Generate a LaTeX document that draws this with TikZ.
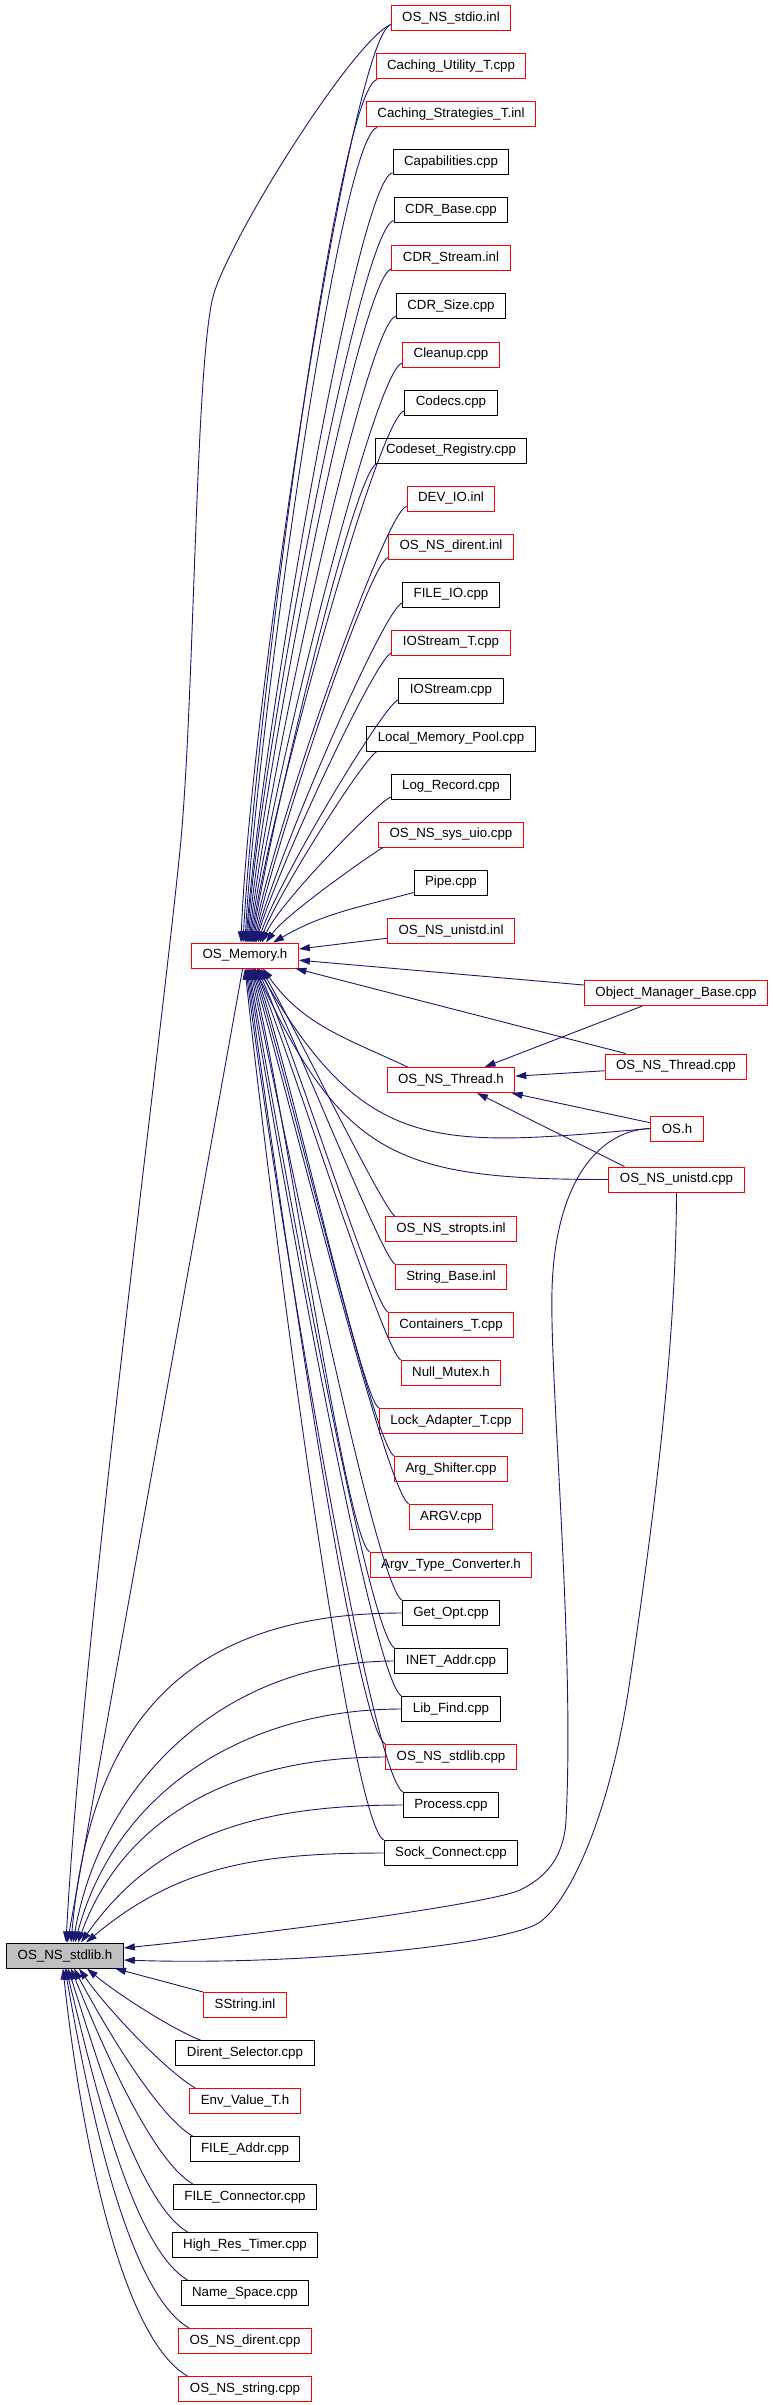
\documentclass[tikz,border=0pt]{standalone}
\usepackage{fontspec}
\setmainfont{Liberation Sans}
\usepackage{tikz}
\usetikzlibrary{arrows.meta}
\definecolor{edgeblue}{HTML}{191970}
\definecolor{rootgray}{HTML}{BFBFBF}
\tikzset{
  filenode/.style={rectangle,line width=1pt,minimum height=25pt,inner xsep=11pt,inner ysep=0pt,font=\fontsize{13.3}{15}\selectfont},
  blackbox/.style={filenode,draw=black},
  redbox/.style={filenode,draw=red},
  rootbox/.style={filenode,draw=black,fill=rootgray},
  dep/.style={draw=edgeblue,line width=.9pt,-{Triangle[length=11pt,width=7pt]}},
  tomem/.style={out looseness=.12,in looseness=.6},
  tolib/.style={out looseness=.5,in looseness=.8}
}
\begin{document}
\begin{tikzpicture}[x=1pt,y=1pt]
  \useasboundingbox (0,0) rectangle (773,-2405);

  \node[redbox] (stdioinl) at (451,-18.5) {OS\_NS\_stdio.inl};
  \node[redbox] (cachut) at (451,-66.5) {Caching\_Utility\_T.cpp};
  \node[redbox] (cachst) at (451,-114.5) {Caching\_Strategies\_T.inl};
  \node[blackbox] (capab) at (451,-162.5) {Capabilities.cpp};
  \node[blackbox] (cdrbase) at (451,-210.5) {CDR\_Base.cpp};
  \node[redbox] (cdrstream) at (451,-258.5) {CDR\_Stream.inl};
  \node[blackbox] (cdrsize) at (451,-306.5) {CDR\_Size.cpp};
  \node[redbox] (cleanup) at (451,-354.5) {Cleanup.cpp};
  \node[blackbox] (codecs) at (451,-402.5) {Codecs.cpp};
  \node[blackbox] (codeset) at (451,-450.5) {Codeset\_Registry.cpp};
  \node[redbox] (devio) at (451,-498.5) {DEV\_IO.inl};
  \node[redbox] (direntinl) at (451,-546.5) {OS\_NS\_dirent.inl};
  \node[blackbox] (fileio) at (451,-594.5) {FILE\_IO.cpp};
  \node[redbox] (iostreamt) at (451,-642.5) {IOStream\_T.cpp};
  \node[blackbox] (iostream) at (451,-690.5) {IOStream.cpp};
  \node[blackbox] (localmem) at (451,-738.5) {Local\_Memory\_Pool.cpp};
  \node[blackbox] (logrec) at (451,-786.5) {Log\_Record.cpp};
  \node[redbox] (sysuio) at (451,-834.5) {OS\_NS\_sys\_uio.cpp};
  \node[blackbox] (pipe) at (451,-882.5) {Pipe.cpp};
  \node[redbox] (unistdinl) at (451,-930.5) {OS\_NS\_unistd.inl};

  \node[redbox] (mem) at (245,-955.5) {OS\_Memory.h};
  \node[redbox] (omb) at (676,-993) {Object\_Manager\_Base.cpp};
  \node[redbox] (thrcpp) at (676,-1066.5) {OS\_NS\_Thread.cpp};
  \node[redbox] (thr) at (451,-1080) {OS\_NS\_Thread.h};
  \node[redbox] (osh) at (677,-1128.5) {OS.h};
  \node[redbox] (unicpp) at (676.5,-1179.5) {OS\_NS\_unistd.cpp};

  \node[redbox] (stropts) at (451,-1229) {OS\_NS\_stropts.inl};
  \node[redbox] (strbase) at (451,-1277) {String\_Base.inl};
  \node[redbox] (contt) at (451,-1325) {Containers\_T.cpp};
  \node[redbox] (nullmtx) at (451,-1373) {Null\_Mutex.h};
  \node[redbox] (lockad) at (451,-1421) {Lock\_Adapter\_T.cpp};
  \node[redbox] (argsh) at (451,-1469) {Arg\_Shifter.cpp};
  \node[redbox] (argv) at (451,-1517) {ARGV.cpp};
  \node[redbox] (argvtc) at (451,-1565) {Argv\_Type\_Converter.h};
  \node[blackbox] (getopt) at (451,-1613) {Get\_Opt.cpp};
  \node[blackbox] (inet) at (451,-1661) {INET\_Addr.cpp};
  \node[blackbox] (libfind) at (451,-1709) {Lib\_Find.cpp};
  \node[redbox] (stdlibcpp) at (451,-1757) {OS\_NS\_stdlib.cpp};
  \node[blackbox] (process) at (451,-1805) {Process.cpp};
  \node[blackbox] (sockconn) at (451,-1853) {Sock\_Connect.cpp};

  \node[rootbox] (lib) at (65,-1955.5) {OS\_NS\_stdlib.h};
  \node[redbox] (sstring) at (245,-2005) {SString.inl};
  \node[blackbox] (dirsel) at (245,-2053) {Dirent\_Selector.cpp};
  \node[redbox] (envval) at (245,-2101) {Env\_Value\_T.h};
  \node[blackbox] (fileaddr) at (245,-2149) {FILE\_Addr.cpp};
  \node[blackbox] (fileconn) at (245,-2197) {FILE\_Connector.cpp};
  \node[blackbox] (hrtimer) at (245,-2245) {High\_Res\_Timer.cpp};
  \node[blackbox] (namesp) at (245,-2293) {Name\_Space.cpp};
  \node[redbox] (direntcpp) at (245,-2341) {OS\_NS\_dirent.cpp};
  \node[redbox] (stringcpp) at (245,-2389) {OS\_NS\_string.cpp};

  \draw[dep] ([yshift=-6]stdioinl.west) to[out=200,in=88,tomem] ([xshift=-4]mem.north);
  \draw[dep] (cachut) to[out=190,in=87,tomem] ([xshift=-2]mem.north);
  \draw[dep] (cachst) to[out=190,in=87,tomem] (mem.north);
  \draw[dep] (capab) to[out=190,in=86,tomem] ([xshift=1]mem.north);
  \draw[dep] (cdrbase) to[out=190,in=86,tomem] ([xshift=2]mem.north);
  \draw[dep] (cdrstream) to[out=190,in=85,tomem] ([xshift=3]mem.north);
  \draw[dep] (cdrsize) to[out=190,in=84,tomem] ([xshift=4]mem.north);
  \draw[dep] (cleanup) to[out=190,in=83,tomem] ([xshift=5]mem.north);
  \draw[dep] (codecs) to[out=190,in=82,tomem] ([xshift=6]mem.north);
  \draw[dep] (codeset) to[out=190,in=81,tomem] ([xshift=7]mem.north);
  \draw[dep] (devio) to[out=190,in=80,tomem] ([xshift=8]mem.north);
  \draw[dep] (direntinl) to[out=190,in=78,tomem] ([xshift=9]mem.north);
  \draw[dep] (fileio) to[out=190,in=76,tomem] ([xshift=10]mem.north);
  \draw[dep] (iostreamt) to[out=190,in=74,tomem] ([xshift=11]mem.north);
  \draw[dep] (iostream) to[out=190,in=72,tomem] ([xshift=13]mem.north);
  \draw[dep] (localmem) to[out=190,in=70,tomem] ([xshift=15]mem.north);
  \draw[dep] (logrec) to[out=190,in=66,tomem] ([xshift=17]mem.north);
  \draw[dep] ([xshift=5]sysuio.south west) to[out=205,in=55,tomem] ([xshift=21]mem.north);
  \draw[dep] (pipe) to[out=195,in=30] ([xshift=28]mem.north);
  \draw[dep] (unistdinl) -- (mem);

  \draw[dep] ([yshift=-6]stdioinl.west) .. controls (355,-40) and (240,-220) .. (215,-290)
    .. controls (195,-345) and (195,-700) .. (180,-850)
    .. controls (160,-1050) and (82,-1643) .. ([xshift=1]lib.north);

  \draw[dep] (omb) -- (mem);
  \draw[dep] (omb) -- (thr);
  \draw[dep] (thrcpp) -- (mem);
  \draw[dep] (thrcpp) -- (thr);
  \draw[dep] (osh) -- (thr);
  \draw[dep] ([xshift=16]unicpp.north west) -- (thr);
  \draw[dep] ([xshift=21]thr.north west) to[out=155,in=-55] ([xshift=18]mem.south);
  \draw[dep] (osh.west) to[out=185,in=-60,looseness=1.3] ([xshift=13]mem.south);
  \draw[dep] (unicpp.west) to[out=180,in=-65,looseness=1.3] ([xshift=10]mem.south);
  \draw[dep] (osh.west) .. controls (600,-1130) and (555,-1180) .. (552,-1290)
    .. controls (549.5,-1380) and (575,-1650) .. (566,-1820)
    .. controls (564,-1858) and (545,-1878) .. (520,-1890)
    .. controls (495,-1902) and (300,-1930) .. ([yshift=7.5]lib.east);
  \draw[dep] (unicpp.south) .. controls (676,-1350) and (652,-1530) .. (630,-1680)
    .. controls (610,-1816) and (570,-1900) .. (540,-1922)
    .. controls (510,-1944) and (300,-1966) .. ([yshift=-4.5]lib.east);

  \draw[dep] ([xshift=10]stropts.north west) to[out=150,in=-60,tomem] ([xshift=16]mem.south);
  \draw[dep] (strbase.north west) to[out=150,in=-62,tomem] ([xshift=14]mem.south);
  \draw[dep] (contt.north west) to[out=150,in=-65,tomem] ([xshift=12]mem.south);
  \draw[dep] (nullmtx.north west) to[out=150,in=-68,tomem] ([xshift=10]mem.south);
  \draw[dep] (lockad.north west) to[out=150,in=-70,tomem] ([xshift=9]mem.south);
  \draw[dep] (argsh.north west) to[out=150,in=-72,tomem] ([xshift=8]mem.south);
  \draw[dep] (argv.north west) to[out=150,in=-74,tomem] ([xshift=7]mem.south);
  \draw[dep] (argvtc.north west) to[out=150,in=-76,tomem] ([xshift=6]mem.south);
  \draw[dep] (getopt.north west) to[out=150,in=-78,tomem] ([xshift=5]mem.south);
  \draw[dep] (inet.north west) to[out=150,in=-80,tomem] ([xshift=4]mem.south);
  \draw[dep] (libfind.north west) to[out=150,in=-81,tomem] ([xshift=3]mem.south);
  \draw[dep] (stdlibcpp.north west) to[out=150,in=-82,tomem] ([xshift=2]mem.south);
  \draw[dep] (process.north west) to[out=150,in=-83,tomem] ([xshift=1]mem.south);
  \draw[dep] (sockconn.north west) to[out=150,in=-84,tomem] (mem.south);

  \draw[dep] (getopt.west) to[out=180,in=85,looseness=1.2] ([xshift=6]lib.north);
  \draw[dep] (inet.west) to[out=180,in=80] ([xshift=8]lib.north);
  \draw[dep] (libfind.west) to[out=180,in=75] ([xshift=10]lib.north);
  \draw[dep] (stdlibcpp.west) to[out=180,in=70] ([xshift=13]lib.north);
  \draw[dep] (process.west) to[out=180,in=55] ([xshift=16]lib.north);
  \draw[dep] (sockconn.west) to[out=180,in=40] ([xshift=21]lib.north);
  \draw[dep] (mem) -- (lib);

  \draw[dep] (sstring.north west) -- ([xshift=50]lib.south);
  \draw[dep] ([xshift=25]dirsel.north west) to[out=160,in=-40,tolib] ([xshift=22]lib.south);
  \draw[dep] ([xshift=6]envval.north west) to[out=150,in=-55,tolib] ([xshift=14]lib.south);
  \draw[dep] ([xshift=3]fileaddr.north west) to[out=150,in=-62,tolib] ([xshift=9]lib.south);
  \draw[dep] ([xshift=20]fileconn.north west) to[out=150,in=-68,tolib] ([xshift=6]lib.south);
  \draw[dep] ([xshift=16]hrtimer.north west) to[out=150,in=-72,tolib] ([xshift=3]lib.south);
  \draw[dep] ([xshift=7]namesp.north west) to[out=150,in=-76,tolib] ([xshift=1]lib.south);
  \draw[dep] ([xshift=11]direntcpp.north west) to[out=150,in=-80,tolib] (lib.south);
  \draw[dep] ([xshift=9]stringcpp.north west) to[out=150,in=-84,tolib] ([xshift=-2]lib.south);
\end{tikzpicture}
\end{document}
